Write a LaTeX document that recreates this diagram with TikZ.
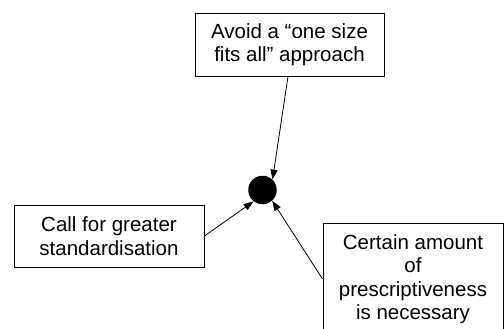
\documentclass[tikz,border=0pt]{standalone}
\usepackage{fontspec}
\setmainfont{Liberation Sans}
\usetikzlibrary{arrows.meta}
\begin{document}
\begin{tikzpicture}[x=1pt,y=-1pt,
  box/.style={draw, line width=0.9pt, align=center, inner sep=0pt,
    font=\fontsize{20.5}{23.5}\selectfont},
  conn/.style={line width=0.8pt, -{Triangle[length=10pt,width=7pt]}},
  blob/.style={circle, fill=black, inner sep=0pt, minimum size=28.5pt}]
\useasboundingbox (0,0) rectangle (504,329);
\node[box, minimum width=189pt, minimum height=63pt] (top) at (289.5,44.5) {Avoid a “one size\\fits all” approach};
\node[box, minimum width=190pt, minimum height=62pt] (left) at (109,236) {Call for greater\\standardisation};
\node[box, minimum width=180pt, minimum height=108pt, text depth=0pt] (right) at (413,277) {Certain amount\\of\\prescriptiveness\\is necessary};
\node[blob] (dot) at (262.5,190) {};
\draw[conn] ([xshift=-1.5pt]top.south) -- (dot.46);
\draw[conn] (left.east) -- (dot.232);
\draw[conn] ([yshift=-2pt]right.west) -- (dot.312);
\end{tikzpicture}
\end{document}
